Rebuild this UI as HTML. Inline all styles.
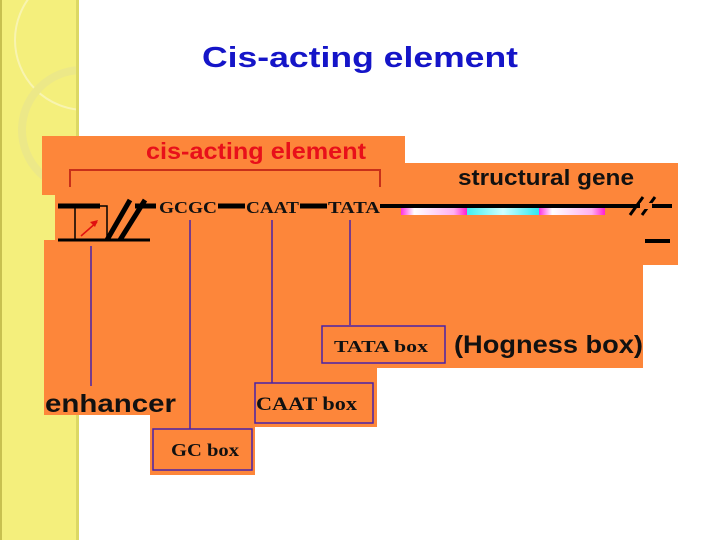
<!DOCTYPE html>
<html><head><meta charset="utf-8"><style>
html,body{margin:0;padding:0;background:#fff;}
svg{display:block;}
</style></head><body>
<svg width="720" height="540" xmlns="http://www.w3.org/2000/svg" font-family="Liberation Sans, sans-serif">
<defs>
<clipPath id="strip"><rect x="0" y="0" width="78" height="540"/></clipPath>
<linearGradient id="pk" x1="0" y1="0" x2="1" y2="0"><stop offset="0" stop-color="#ff30e0"/><stop offset="0.2" stop-color="#fff"/><stop offset="0.8" stop-color="#ffb0f0"/><stop offset="1" stop-color="#ff20d0"/></linearGradient>
<linearGradient id="cy" x1="0" y1="0" x2="1" y2="0"><stop offset="0" stop-color="#40f0f0"/><stop offset="0.5" stop-color="#d0ffff"/><stop offset="1" stop-color="#30e8f0"/></linearGradient>
</defs>
<rect x="0" y="0" width="720" height="540" fill="#fff"/>
<rect x="0" y="0" width="78" height="540" fill="#f4ef7c"/>
<g clip-path="url(#strip)">
<circle cx="85" cy="40" r="70" fill="none" stroke="#f8f4b0" stroke-width="2"/>
<circle cx="82" cy="130" r="60" fill="none" stroke="#ece888" stroke-width="8"/>
</g>
<rect x="76" y="0" width="3" height="540" fill="#dcd864"/>
<rect x="0" y="0" width="2" height="540" fill="#c8c050"/>
<text x="202" y="67" font-size="29" fill="#1515c8" font-weight="bold" textLength="316" lengthAdjust="spacingAndGlyphs">Cis-acting element</text>

<g fill="#fd863a">
<rect x="42" y="136" width="363" height="59"/>
<rect x="55" y="195" width="350" height="46"/>
<rect x="400" y="163" width="278" height="102"/>
<rect x="44" y="240" width="599" height="128"/>
<rect x="44" y="368" width="333" height="47"/>
<rect x="150" y="415" width="227" height="12"/>
<rect x="150" y="427" width="105" height="48"/>
</g>

<text x="146" y="159" font-size="23" font-weight="bold" fill="#e8101a" textLength="220" lengthAdjust="spacingAndGlyphs">cis-acting element</text>
<path d="M70 187 V170 H380 V187" fill="none" stroke="#c8301a" stroke-width="2"/>

<text x="458" y="185" font-size="22" font-weight="bold" fill="#111" textLength="176" lengthAdjust="spacingAndGlyphs">structural gene</text>

<g stroke="#000" fill="none">
<line x1="58" y1="206" x2="100" y2="206" stroke-width="5"/>
<line x1="58" y1="240" x2="150" y2="240" stroke-width="3"/>
<rect x="75" y="206" width="32" height="34" stroke-width="1.5"/>
<line x1="107" y1="240" x2="130" y2="200" stroke-width="5"/>
<line x1="120" y1="240" x2="145" y2="200" stroke-width="5"/>
<line x1="135" y1="206" x2="156" y2="206" stroke-width="5"/>
<line x1="218" y1="206" x2="245" y2="206" stroke-width="5"/>
<line x1="300" y1="206" x2="327" y2="206" stroke-width="5"/>
<line x1="380" y1="206" x2="672" y2="206" stroke-width="4"/>
<line x1="630" y1="215" x2="643" y2="197" stroke-width="3"/>
<line x1="642" y1="215" x2="655" y2="197" stroke-width="3"/>
<line x1="645" y1="241" x2="670" y2="241" stroke-width="4"/>
</g>
<rect x="640" y="203" width="12" height="6" fill="#fd863a"/>
<line x1="81" y1="236" x2="97" y2="222" stroke="#e01010" stroke-width="1.5"/>
<polygon points="98,220 90,222 95,227" fill="#e01010"/>

<rect x="401" y="208" width="66" height="7" fill="url(#pk)"/>
<rect x="467" y="208" width="72" height="7" fill="url(#cy)"/>
<rect x="539" y="208" width="66" height="7" fill="url(#pk)"/>

<g font-family="Liberation Serif, serif" font-weight="bold" fill="#111">
<text x="159" y="213" font-size="17" textLength="58" lengthAdjust="spacingAndGlyphs">GCGC</text>
<text x="246" y="213" font-size="17" textLength="53" lengthAdjust="spacingAndGlyphs">CAAT</text>
<text x="328" y="213" font-size="17" textLength="52" lengthAdjust="spacingAndGlyphs">TATA</text>
</g>

<g stroke="#4a22a8" stroke-width="1.5" fill="none">
<line x1="91" y1="246" x2="91" y2="386"/>
<line x1="190" y1="220" x2="190" y2="429"/>
<line x1="272" y1="220" x2="272" y2="383"/>
<line x1="350" y1="220" x2="350" y2="325"/>
<rect x="322" y="326" width="123" height="37"/>
<rect x="255" y="383" width="118" height="40"/>
<rect x="153" y="429" width="99" height="41"/>
</g>
<g font-family="Liberation Serif, serif" font-weight="bold" fill="#111">
<text x="334" y="352" font-size="17" textLength="94" lengthAdjust="spacingAndGlyphs">TATA box</text>
<text x="256" y="410" font-size="19" textLength="101" lengthAdjust="spacingAndGlyphs">CAAT  box</text>
<text x="171" y="456" font-size="18" textLength="68" lengthAdjust="spacingAndGlyphs">GC box</text>
</g>
<text x="454" y="353" font-size="25" font-weight="bold" fill="#111" textLength="189" lengthAdjust="spacingAndGlyphs">(Hogness box)</text>
<text x="45" y="412" font-size="25" font-weight="bold" fill="#111" textLength="131" lengthAdjust="spacingAndGlyphs">enhancer</text>
</svg>
</body></html>
